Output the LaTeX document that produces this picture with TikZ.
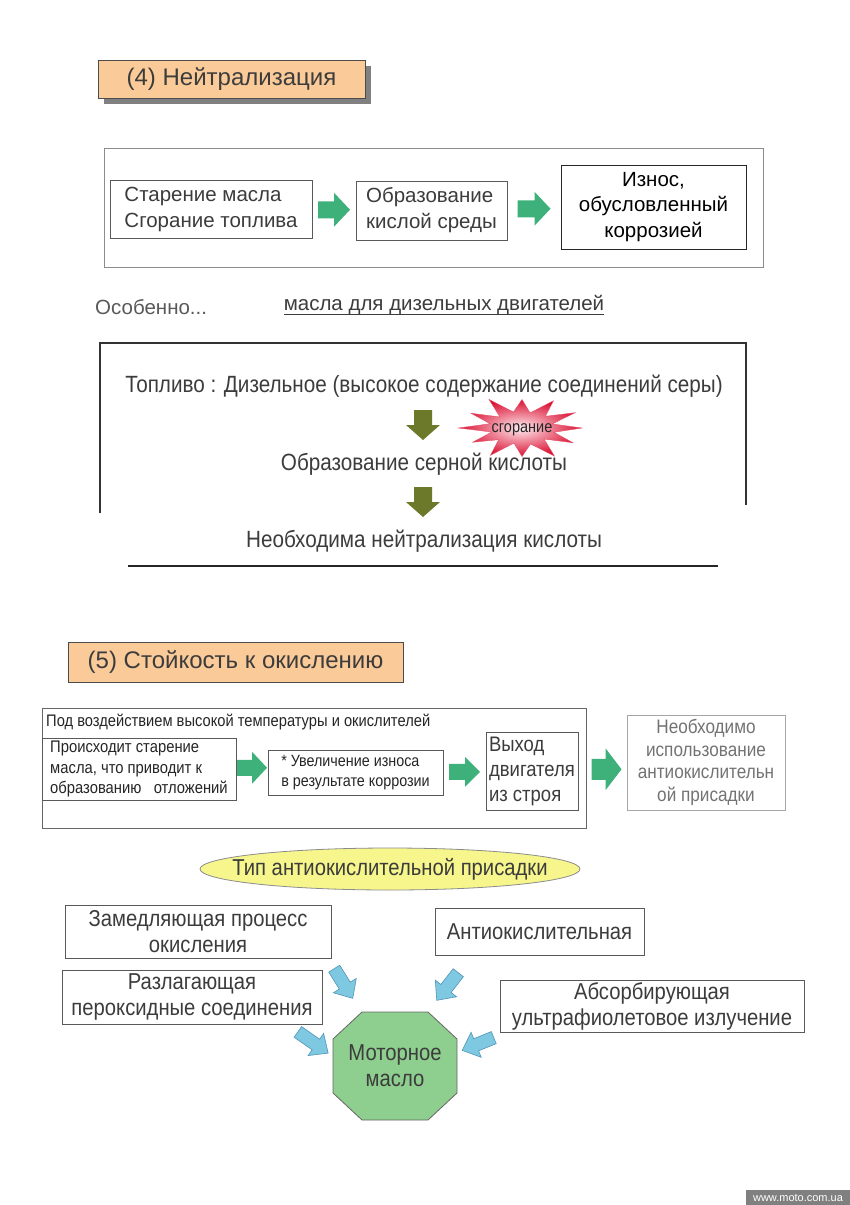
\documentclass[tikz,border=0pt]{standalone}
\usepackage{fontspec}
\setmainfont{Liberation Sans}
\newfontfamily\cf{Liberation Sans}[FakeStretch=0.88]
\usetikzlibrary{shapes.geometric,shadows,calc}
\definecolor{txt}{RGB}{60,60,60}
\definecolor{orng}{RGB}{250,202,152}
\definecolor{grn}{RGB}{62,176,122}
\definecolor{olv}{RGB}{108,120,42}
\definecolor{blu}{RGB}{126,200,226}
\definecolor{bluedge}{RGB}{80,150,182}
\definecolor{ylw}{RGB}{246,246,140}
\definecolor{octg}{RGB}{142,206,142}
\definecolor{burstin}{RGB}{255,236,240}
\definecolor{burstout}{RGB}{218,16,50}
\definecolor{burstedge}{RGB}{230,80,105}
\newcommand\blockarrow[7]{%
  \begin{scope}[shift={(#2)},rotate=#3]
    \path[#1] (-#4/2,-#6/2) -- ({#4/2-#7},-#6/2) -- ({#4/2-#7},-#5/2) -- (#4/2,0)
      -- ({#4/2-#7},#5/2) -- ({#4/2-#7},#6/2) -- (-#4/2,#6/2) -- cycle;
  \end{scope}}
\newcommand\fs[2]{\fontsize{#1}{#2}\selectfont}
\begin{document}
\begin{tikzpicture}[x=1pt,y=-1pt,
  every node/.style={text=txt},
  title/.style={draw=black!70, line width=0.8pt, fill=orng, inner sep=0pt, font=\fs{24}{28}},
  outerbox/.style={draw=black!45, line width=0.8pt, inner sep=0pt},
  box/.style={draw=black!65, line width=0.8pt, inner sep=0pt},
  topt/.style={font=\fs{20.5}{26}},
  condt/.style={font=\cf\fs{23.5}{28}},
  smallt/.style={font=\cf\fs{16.8}{20.5}},
  lowt/.style={font=\cf\fs{23}{26}},
  garrow/.style={fill=grn},
  oarrow/.style={fill=olv},
  barrow/.style={fill=blu, draw=bluedge, line width=0.6pt}
]
\useasboundingbox[fill=white] (0,0) rectangle (850,1205);

% ---------- (4) ----------
\node[title, drop shadow={shadow xshift=6pt, shadow yshift=-6pt, fill=black!50, opacity=1},
  minimum width=267, minimum height=38] (t1) at (231.5,79) {(4) Нейтрализация};

\node[outerbox, minimum width=659, minimum height=119] (o1) at (433.5,207.5) {};
\node[box, topt, align=left, minimum width=202, minimum height=58] (A) at (211,209)
  {Старение масла\\Сгорание топлива};
\node[box, topt, align=left, minimum width=151, minimum height=59] (B) at (431.5,210.5)
  {Образование\\кислой среды};
\node[box, draw=black!85, topt, text=black, align=center, minimum width=185, minimum height=84,
  font=\fs{20.5}{25.5}] (C) at (653.5,207) {Износ,\\обусловленный\\коррозией};
\blockarrow{garrow}{$(A.east)!0.5!(B.west)$}{0}{32}{34}{17}{16}
\blockarrow{garrow}{$(B.east)!0.5!(C.west)$}{0}{33}{34}{17}{16}

\node[anchor=west, topt, text=black!65, inner sep=0pt] (esp) at (95,307) {Особенно...};
\node[topt, inner sep=0pt] (ul) at (444,305) {масла для дизельных двигателей};
\draw[txt, line width=0.8pt] ($(ul.base west)+(0,4)$) -- ($(ul.base east)+(0,4)$);

\draw[black!80, line width=1.2pt] (100,513) -- (100,343) -- (746,343) -- (746,505);
\draw[black!85, line width=1.2pt] (128,566) -- (718,566);
\node[condt] (fuel) at (424,386) {Топливо : Дизельное (высокое содержание соединений серы)};
\node[condt] (sulf) at (424,464) {Образование серной кислоты};
\node[condt] (neut) at (424,541) {Необходима нейтрализация кислоты};
\blockarrow{oarrow}{423,425}{-90}{30}{34}{18}{15}
\blockarrow{oarrow}{423,502}{-90}{30}{34}{18}{15}
\begin{scope}[shift={(522,428)}]
  \shade[inner color=burstin, outer color=burstout, draw=burstedge, line width=0.4pt]
    (0:60) \foreach \a/\r in {15/0.55,30/0.98,45/0.52,60/1.08,75/0.55,90/0.95,105/0.52,120/1.05,
      135/0.55,150/0.95,165/0.52,180/1.06,195/0.55,210/0.98,225/0.52,240/1.1,255/0.55,270/0.95,
      285/0.52,300/1.05,315/0.55,330/1.02,345/0.52}
      { -- ({60*\r*cos(\a)},{30*\r*sin(\a)}) } -- cycle;
\end{scope}
\node[inner sep=0pt, font=\cf\fs{16.5}{17}, text=black!85] (burn) at (522,430) {сгорание};

% ---------- (5) ----------
\node[title, minimum width=335, minimum height=40] (t2) at (235.5,662) {(5) Стойкость к окислению};

\node[outerbox, draw=black!60, minimum width=544, minimum height=120] (o3) at (314,768) {};
\node[anchor=west, inner sep=0pt, font=\cf\fs{16.7}{18}, text=black!85] (hdr) at (46,722)
  {Под воздействием высокой температуры и окислителей};
\node[box, smallt, align=left, minimum width=194, minimum height=62, text=black!85] (D) at (139,769)
  {Происходит старение\\масла, что приводит к\\образованию \ \ отложений};
\node[box, font=\cf\fs{16.3}{20.5}, align=left, minimum width=175, minimum height=45, text=black!85] (E) at (355.5,772.5)
  {* Увеличение износа\\в результате коррозии};
\node[box, align=left, minimum width=92, minimum height=78, font=\cf\fs{21}{25}] (F) at (532,771)
  {Выход\\двигателя\\из строя};
\node[box, draw=black!35, align=center, minimum width=158, minimum height=95, font=\cf\fs{19.5}{22.5}, text=black!55] (G) at (706,762.5)
  {Необходимо\\использование\\антиокислительн\\ой присадки};
\blockarrow{garrow}{$(D.east)!0.5!(E.west)+(0,-3)$}{0}{30}{32}{16}{15}
\blockarrow{garrow}{$(E.east)!0.5!(F.west)$}{0}{31}{30}{16}{15}
\blockarrow{garrow}{$(o3.east)!0.5!(G.west)+(0,4)$}{0}{30}{42}{21}{16}

\draw[draw=black!45, fill=ylw, line width=0.8pt] (390,869) ellipse [x radius=190, y radius=21];
\node[lowt, inner sep=0pt] (typ) at (390,869) {Тип антиокислительной присадки};
\node[box, lowt, align=center, minimum width=266, minimum height=53] (H) at (198,931.5)
  {Замедляющая процесс\\окисления};
\node[box, lowt, align=center, minimum width=209, minimum height=47] (I) at (539.5,931.5)
  {Антиокислительная};
\node[box, lowt, align=center, minimum width=260, minimum height=54] (J) at (192,997)
  {Разлагающая\\пероксидные соединения};
\node[box, lowt, align=center, minimum width=304, minimum height=52] (K) at (652,1006)
  {Абсорбирующая\\ультрафиолетовое излучение};
\draw[fill=octg, draw=black!60, line width=0.8pt]
  (362,1012) -- (428,1012) -- (457,1039) -- (457,1093) -- (428,1120) -- (362,1120)
  -- (333,1093) -- (333,1039) -- cycle;
\node[lowt, align=center, inner sep=0pt] (oil) at (395,1066) {Моторное\\масло};
\blockarrow{barrow}{343.5,983.5}{-58}{35}{27}{13}{15}
\blockarrow{barrow}{447.5,986.5}{-128}{35}{27}{13}{15}
\blockarrow{barrow}{313,1042.5}{-35}{37}{27}{13}{15}
\blockarrow{barrow}{478,1044}{-158}{34}{27}{13}{15}

\node[fill=black!50, text=white, inner sep=0pt, minimum width=104, minimum height=15,
  font=\fs{11}{12}] (wm) at (798,1197.5) {www.moto.com.ua};
\end{tikzpicture}
\end{document}
